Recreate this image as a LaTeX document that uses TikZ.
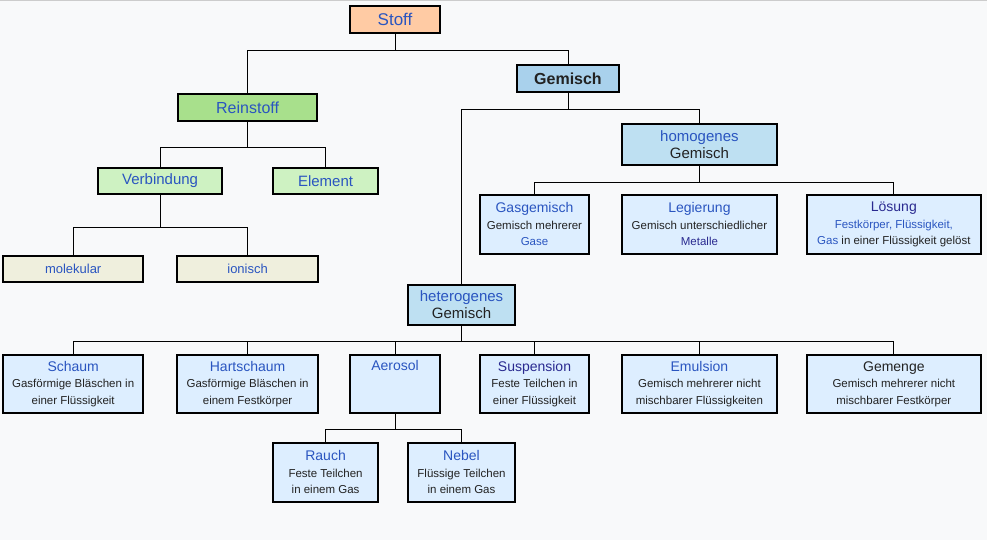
\documentclass[tikz,border=0pt]{standalone}
\usepackage{fontspec}
\setmainfont{Liberation Sans}
\begin{document}
\definecolor{bg}{HTML}{F8F9FA}
\definecolor{tb}{HTML}{2A55C0}
\definecolor{td}{HTML}{2A2A90}
\definecolor{tx}{HTML}{222222}
\definecolor{cpeach}{HTML}{FFCBA4}
\definecolor{cgem}{HTML}{A9D1EC}
\definecolor{cgreen}{HTML}{A8E08C}
\definecolor{clgreen}{HTML}{CEF2C2}
\definecolor{chom}{HTML}{BEE0F2}
\definecolor{cleaf}{HTML}{DDEEFF}
\definecolor{cbeige}{HTML}{EFEFDD}
\begin{tikzpicture}[x=1pt,y=-1pt,
  box/.style={draw=black,line width=2.4pt,inner sep=0pt,align=center,text=tx,font=\fontsize{11.5}{16.5}\selectfont},
  leaf/.style={box,fill=cleaf},
  ti/.style={text=tb,font=\fontsize{14}{16}\selectfont},
  ln/.style={line width=0.8pt}]
\fill[bg] (0,0) rectangle (987,540);
\draw[gray!40] (0,0.5) -- (987,0.5);
\newcommand{\bx}[7]{\node[#1,minimum width=#4-#2,minimum height=#5-#3] (#6) at ({(#2+#4)/2},{(#3+#5)/2}) {#7};}
\newcommand{\tl}[1]{{\fontsize{14}{17}\selectfont #1}}
\bx{box,fill=cpeach}{350}{6}{440}{33}{stoff}{\fontsize{17}{18}\selectfont\color{tb}Stoff}
\bx{box,fill=cgem}{517}{65}{619}{92}{gem}{\fontsize{16}{18}\selectfont\bfseries\color{tx}Gemisch}
\bx{box,fill=cgreen}{178}{94}{317}{121}{rein}{\fontsize{16}{18}\selectfont\color{tb}Reinstoff}
\bx{box,fill=chom}{622}{124}{777}{165}{hom}{{\fontsize{15}{17}\selectfont\color{tb}homogenes}\\{\fontsize{15}{17}\selectfont Gemisch}}
\bx{box,fill=clgreen}{98}{168}{222}{194}{verb}{\fontsize{15}{16}\selectfont\color{tb}Verbindung}
\bx{box,fill=clgreen}{273}{168}{378}{194}{elem}{\fontsize{15}{16}\selectfont\color{tb}Element}
\bx{leaf}{480}{195}{589}{254}{gas}{\tl{\color{tb}Gasgemisch}\\Gemisch mehrerer\\\color{tb}Gase}
\bx{leaf}{622}{195}{777}{254}{leg}{\tl{\color{tb}Legierung}\\Gemisch unterschiedlicher\\\color{td}Metalle}
\bx{leaf}{807}{195}{981}{254}{loe}{\tl{\color{td}Lösung}\\\color{tb}Festkörper, Flüssigkeit,\\{\color{tb}Gas} in einer Flüssigkeit gelöst}
\bx{box,fill=cbeige}{3}{256}{143}{282}{mol}{\fontsize{13}{16}\selectfont\color{tb}molekular}
\bx{box,fill=cbeige}{177}{256}{318}{282}{ion}{\fontsize{13}{16}\selectfont\color{tb}ionisch}
\bx{box,fill=chom}{408}{285}{515}{325}{het}{{\fontsize{15}{17}\selectfont\color{tb}heterogenes}\\{\fontsize{15}{17}\selectfont Gemisch}}
\bx{leaf}{3}{355}{143}{413}{scha}{\tl{\color{tb}Schaum}\\Gasförmige Bläschen in\\einer Flüssigkeit}
\bx{leaf}{177}{355}{318}{413}{hart}{\tl{\color{tb}Hartschaum}\\Gasförmige Bläschen in\\einem Festkörper}
\bx{leaf}{350}{355}{440}{413}{aer}{}
\node[ti,anchor=north] at (aer.north) [yshift=-3pt] {Aerosol};
\bx{leaf}{480}{355}{589}{413}{sus}{\tl{\color{td}Suspension}\\Feste Teilchen in\\einer Flüssigkeit}
\bx{leaf}{622}{355}{777}{413}{emu}{\tl{\color{tb}Emulsion}\\Gemisch mehrerer nicht\\mischbarer Flüssigkeiten}
\bx{leaf}{807}{355}{981}{413}{gme}{\tl{\color{tx}Gemenge}\\Gemisch mehrerer nicht\\mischbarer Festkörper}
\bx{leaf}{273}{443}{378}{502}{rau}{\tl{\color{tb}Rauch}\\Feste Teilchen\\in einem Gas}
\bx{leaf}{408}{443}{515}{502}{neb}{\tl{\color{tb}Nebel}\\Flüssige Teilchen\\in einem Gas}
% connectors
\draw[ln] (stoff.south) -- ++(0,16) coordinate (j1);
\draw[ln] (j1) -| (rein.north); \draw[ln] (j1) -| (gem.north);
\draw[ln] (gem.south) -- ++(0,16) coordinate (j2);
\draw[ln] (j2) -| (het.north); \draw[ln] (j2) -| (hom.north);
\draw[ln] (rein.south) -- ++(0,25) coordinate (j3);
\draw[ln] (j3) -| (verb.north); \draw[ln] (j3) -| (elem.north);
\draw[ln] (verb.south) -- ++(0,32) coordinate (j4);
\draw[ln] (j4) -| (mol.north); \draw[ln] (j4) -| (ion.north);
\draw[ln] (hom.south) -- ++(0,16) coordinate (j5);
\draw[ln] (j5) -| (gas.north); \draw[ln] (j5) -| (loe.north);
\draw[ln] (het.south) -- ++(0,15) coordinate (j6);
\draw[ln] (j6) -| (scha.north); \draw[ln] (j6) -| (gme.north);
\foreach \n in {hart,aer,sus,emu} \draw[ln] (\n.north) -- (\n.north |- j6);
\draw[ln] (aer.south) -- ++(0,15) coordinate (j7);
\draw[ln] (j7) -| (rau.north); \draw[ln] (j7) -| (neb.north);
\end{tikzpicture}
\end{document}
